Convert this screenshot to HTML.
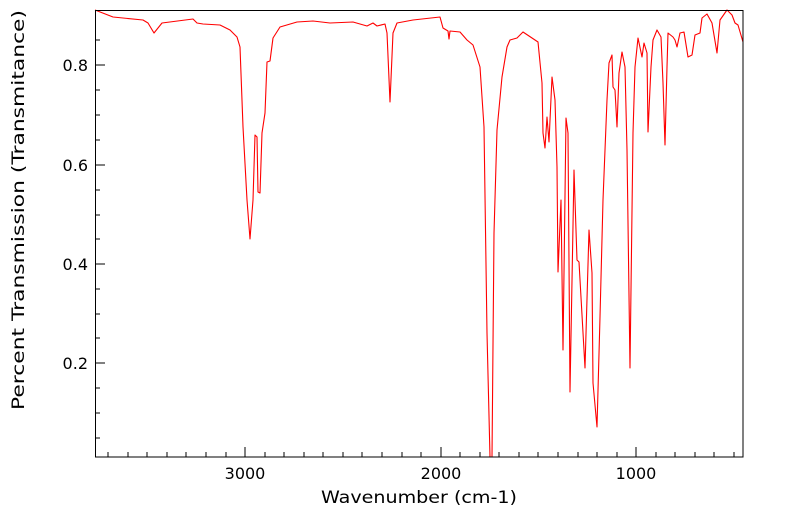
<!DOCTYPE html>
<html><head><style>body{margin:0;background:#fff}</style></head><body>
<svg width="799" height="516" xmlns="http://www.w3.org/2000/svg" font-family="DejaVu Sans, Liberation Sans, sans-serif">
<rect width="799" height="516" fill="#fff"/>
<polyline fill="none" stroke="#ff0000" stroke-width="1.1" stroke-linejoin="round" points="95,10 113,17 143,20 148,23 154,33 162,23 193,19 197,23 203,24 220,25 230,30 237,37 240,47 243,127 247,200 250,239 253,200 255,135 257,137 258,192 260,193 262,133 265,113 267,62 270,61 273,38 280,27 297,22 313,21 330,23 353,22 367,26 373,23 377,26 385,24 387,33 390,102 393,33 397,23 413,20 440,17 443,28 448,31 449,39 450,31 460,32 467,40 473,45 480,67 484,127 487,333 490,457 492,457 494,233 497,130 502,77 507,47 510,40 517,38 523,32 538,42 542,83 543,133 545,148 547,117 549,142 552,77 555,100 557,167 558,272 561,200 563,350 566,118 568,133 570,392 574,170 577,260 579,262 585,368 589,230 592,273 593,383 597,427 600,317 603,200 607,100 609,63 612,55 613,87 615,90 617,127 619,73 622,52 625,67 627,150 630,368 633,133 635,67 638,38 642,57 644,43 647,53 648,132 651,67 653,40 657,30 661,37 663,83 665,145 667,67 668,33 673,37 675,40 677,47 680,33 684,32 688,57 692,55 695,35 700,33 702,18 707,14 712,23 717,53 720,20 727,10 732,15 735,23 738,25 743,42"/>
<rect x="95.5" y="10.5" width="647.5" height="446.5" fill="none" stroke="#000" stroke-width="1"/>
<g stroke="#000" stroke-width="1">
<path d="M245,457v-10M441,457v-10M636,457v-10"/>
<path d="M108,457v-5M128,457v-5M147,457v-5M167,457v-5M186,457v-5M206,457v-5M226,457v-5M265,457v-5M284,457v-5M304,457v-5M323,457v-5M343,457v-5M362,457v-5M382,457v-5M402,457v-5M421,457v-5M460,457v-5M480,457v-5M499,457v-5M519,457v-5M538,457v-5M558,457v-5M578,457v-5M597,457v-5M617,457v-5M656,457v-5M675,457v-5M695,457v-5M714,457v-5M734,457v-5"/>
<path d="M95,65h10M95,165h10M95,264h10M95,363h10"/>
<path d="M95,40h5M95,90h5M95,115h5M95,140h5M95,190h5M95,215h5M95,239h5M95,289h5M95,314h5M95,338h5M95,388h5M95,413h5M95,438h5"/>
</g>
<g font-size="16" fill="#000">
<g text-anchor="end"><text x="88" y="71">0.8</text><text x="88" y="171">0.6</text><text x="88" y="270">0.4</text><text x="88" y="369">0.2</text></g>
<g text-anchor="middle"><text x="245" y="479">3000</text><text x="441" y="479">2000</text><text x="636" y="479">1000</text></g>
<text x="321" y="503" font-size="17" textLength="196" lengthAdjust="spacingAndGlyphs">Wavenumber (cm-1)</text>
<text transform="translate(24,410) rotate(-90)" font-size="17" textLength="400" lengthAdjust="spacingAndGlyphs">Percent Transmission (Transmitance)</text>
</g>
</svg>
</body></html>
